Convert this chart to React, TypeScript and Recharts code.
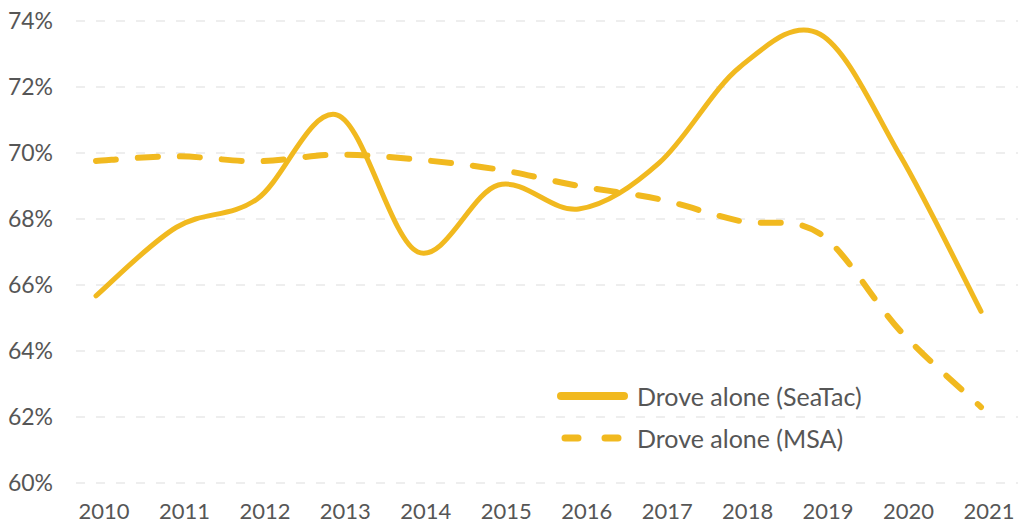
import React from 'react';
import { LineChart, Line, XAxis, YAxis, CartesianGrid } from 'recharts';

const years = ['2010', '2011', '2012', '2013', '2014', '2015', '2016', '2017', '2018', '2019', '2020', '2021'];
const seaTac = [65.67, 67.75, 68.6, 71.15, 67.0, 69.03, 68.3, 69.7, 72.6, 73.6, 69.9, 65.2];
const msa = [69.76, 69.9, 69.75, 69.95, 69.8, 69.5, 69.0, 68.6, 67.94, 67.55, 64.6, 62.3];
const yTicks = [60, 62, 64, 66, 68, 70, 72, 74];
const legendLabels = ['Drove alone (SeaTac)', 'Drove alone (MSA)'];

const data = years.map((y, i) => ({ year: y, seaTac: seaTac[i], msa: msa[i] }));

const COLOR = '#F1B91F';
const TEXT = '#565656';
const FONT = 'Lato, "Open Sans", sans-serif';

// Catmull-Rom style smooth curve (passes through points)
const smoothCurve = (context: any) => {
  let pts: number[][] = [];
  return {
    areaStart() {},
    areaEnd() {},
    lineStart() {
      pts = [];
    },
    lineEnd() {
      const n = pts.length;
      if (!n) return;
      context.moveTo(pts[0][0], pts[0][1]);
      for (let i = 0; i < n - 1; i++) {
        const p0 = pts[Math.max(i - 1, 0)];
        const p1 = pts[i];
        const p2 = pts[i + 1];
        const p3 = pts[Math.min(i + 2, n - 1)];
        context.bezierCurveTo(
          p1[0] + (p2[0] - p0[0]) / 6,
          p1[1] + (p2[1] - p0[1]) / 6,
          p2[0] - (p3[0] - p1[0]) / 6,
          p2[1] - (p3[1] - p1[1]) / 6,
          p2[0],
          p2[1]
        );
      }
    },
    point(x: number, y: number) {
      pts.push([+x, +y]);
    },
  };
};

const LegendOverlay = () => (
  <div
    style={{
      position: 'absolute',
      left: 553,
      top: 380,
      fontFamily: FONT,
      fontSize: 25,
      color: TEXT,
      lineHeight: '32px',
      whiteSpace: 'nowrap',
    }}
  >
    <div style={{ display: 'flex', alignItems: 'center', height: 32 }}>
      <svg width={84} height={12} style={{ display: 'block' }}>
        <line x1={8} y1={6} x2={71} y2={6} stroke={COLOR} strokeWidth={8} strokeLinecap="round" />
      </svg>
      <span>{legendLabels[0]}</span>
    </div>
    <div style={{ display: 'flex', alignItems: 'center', height: 32, marginTop: 10 }}>
      <svg width={84} height={12} style={{ display: 'block' }}>
        <line x1={12} y1={6} x2={69} y2={6} stroke={COLOR} strokeWidth={7} strokeLinecap="round" strokeDasharray="13 27" />
      </svg>
      <span>{legendLabels[1]}</span>
    </div>
  </div>
);

export default function App() {
  return (
    <div style={{ position: 'absolute', left: 0, top: 0, width: 1018, height: 523, background: '#fff' }}>
      <LineChart width={1018} height={523} data={data} margin={{ top: 21, right: 0, left: 0, bottom: 0 }}>
        <CartesianGrid vertical={false} stroke="#dddddd" strokeDasharray="9 11" />
        <XAxis
          dataKey="year"
          axisLine={false}
          tickLine={false}
          height={40}
          tickMargin={14}
          padding={{ left: 20, right: 37 }}
          interval={0}
          tick={{ fill: TEXT, fontSize: 22, fontFamily: FONT, dx: 8 }}
        />
        <YAxis
          domain={[60, 74]}
          ticks={yTicks}
          width={76}
          axisLine={false}
          tickLine={false}
          tickMargin={17}
          tickFormatter={(v: number) => `${v}%`}
          tick={{ fill: TEXT, fontSize: 23, fontFamily: FONT }}
        />
        <Line
          dataKey="seaTac"
          type={smoothCurve as any}
          stroke={COLOR}
          strokeWidth={5}
          dot={false}
          activeDot={false}
          strokeLinecap="round"
          isAnimationActive={false}
        />
        <Line
          dataKey="msa"
          type={smoothCurve as any}
          stroke={COLOR}
          strokeWidth={6}
          strokeDasharray="20 22"
          strokeLinecap="round"
          dot={false}
          activeDot={false}
          isAnimationActive={false}
        />
      </LineChart>
      <LegendOverlay />
    </div>
  );
}
